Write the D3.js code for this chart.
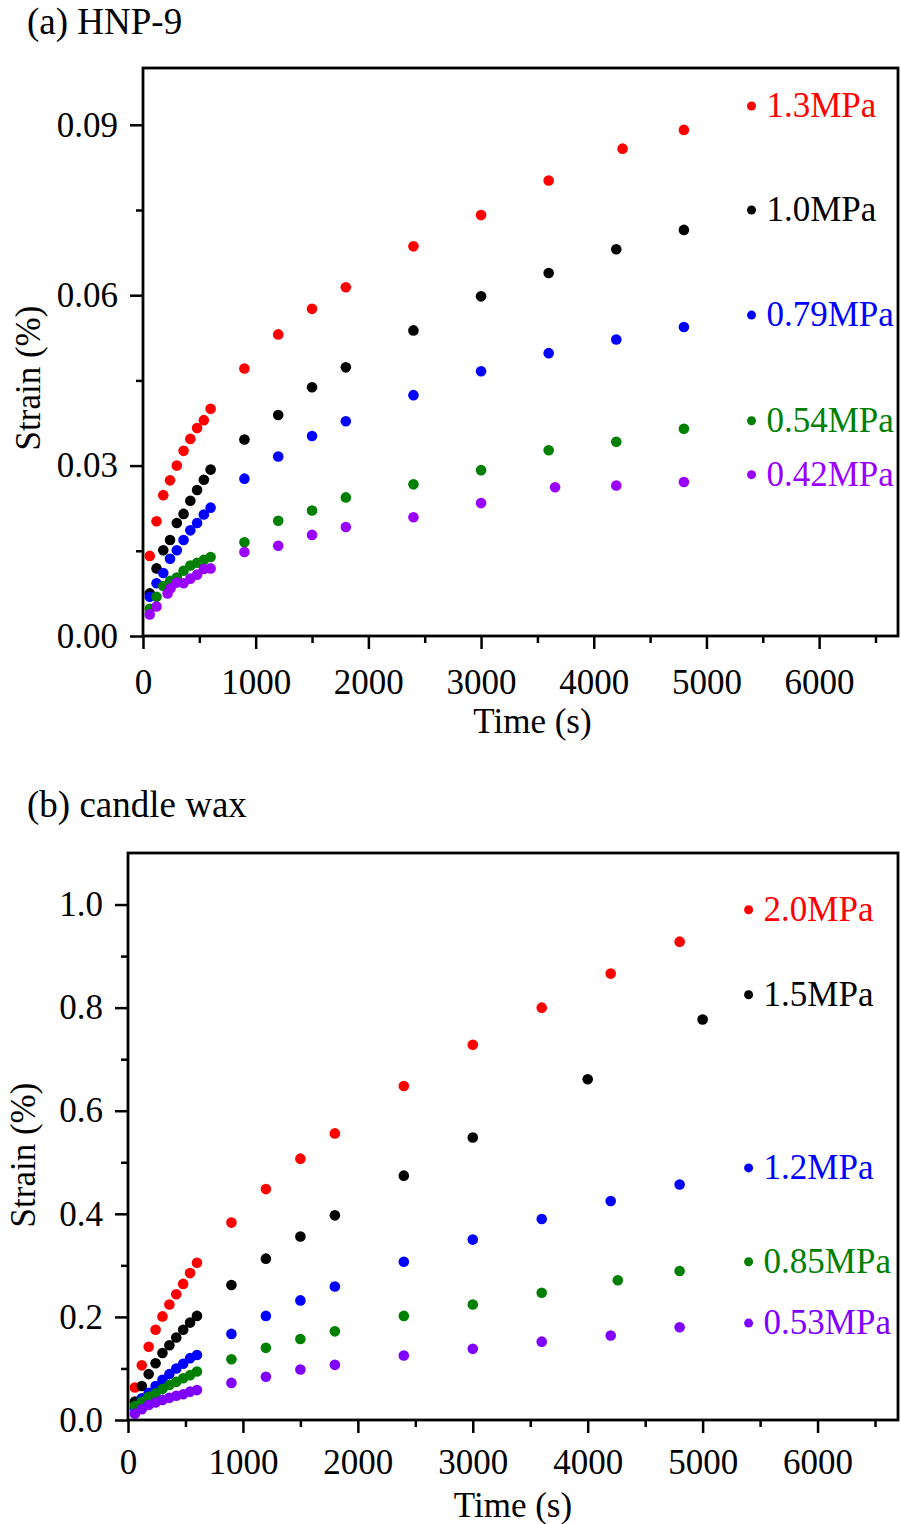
<!DOCTYPE html>
<html>
<head>
<meta charset="utf-8">
<script src="https://cdn.jsdelivr.net/npm/d3@7"></script>
<style>
body { margin: 0; background: #fff; }
svg text { font-family: 'Liberation Serif', 'Times New Roman', serif; }
</style>
</head>
<body>
<div id="chart"></div>
<script>
'use strict';

// time grid (s)
let t_short = [60, 120, 180, 240, 300, 360, 420, 480, 540, 600];
let t_long = [900, 1200, 1500, 1800, 2400, 3000, 3600, 4200, 4800];

// (a) HNP-9, strain (%)
let a_labels = ['1.3MPa', '1.0MPa', '0.79MPa', '0.54MPa', '0.42MPa'];
let a_colors = ['#ff0000', '#000000', '#0000ff', '#008000', '#9900ff'];
let a_legend_y = [0.0933, 0.0750, 0.0565, 0.0379, 0.0284];
let a_t_red = t_short.concat([900, 1200, 1500, 1800, 2400, 3000, 3600, 4256, 4800]);
let a_t_purple = [60, 120, 218, 245, 300, 360, 420, 480, 540, 600, 900, 1200, 1500, 1800, 2400, 3000, 3657, 4200, 4800];
let a_13 = [0.0141, 0.0202, 0.0248, 0.0274, 0.0300, 0.0326, 0.0347, 0.0366, 0.0380, 0.0400,
	0.0471, 0.0531, 0.0576, 0.0614, 0.0686, 0.0741, 0.0802, 0.0858, 0.0891];
let a_10 = [0.0075, 0.0119, 0.0151, 0.0169, 0.0199, 0.0215, 0.0238, 0.0257, 0.0275, 0.0293,
	0.0346, 0.0389, 0.0438, 0.0473, 0.0538, 0.0598, 0.0639, 0.0681, 0.0715];
let a_079 = [0.0069, 0.0093, 0.0111, 0.0136, 0.0151, 0.0169, 0.0186, 0.0199, 0.0214, 0.0226,
	0.0277, 0.0316, 0.0352, 0.0378, 0.0424, 0.0466, 0.0498, 0.0522, 0.0544];
let a_054 = [0.0048, 0.0069, 0.0088, 0.0097, 0.0103, 0.0115, 0.0124, 0.0129, 0.0134, 0.0139,
	0.0165, 0.0203, 0.0221, 0.0244, 0.0267, 0.0292, 0.0327, 0.0342, 0.0365];
let a_042 = [0.0038, 0.0052, 0.0075, 0.0084, 0.0094, 0.0093, 0.0101, 0.0108, 0.0118, 0.0119,
	0.0148, 0.0159, 0.0178, 0.0192, 0.0209, 0.0234, 0.0262, 0.0265, 0.0271];
let a_yticks = [0, 0.03, 0.06, 0.09];
let a_yminor = [0.015, 0.045, 0.075];

// (b) candle wax, strain (%)
let b_labels = ['2.0MPa', '1.5MPa', '1.2MPa', '0.85MPa', '0.53MPa'];
let b_colors = ['#ff0000', '#000000', '#0000ff', '#008000', '#7f00ff'];
let b_legend_y = [0.990, 0.825, 0.489, 0.307, 0.188];
let b_t_black = t_short.concat([900, 1200, 1500, 1800, 2400, 3000, 4000, 5000]);
let b_t_green = t_short.concat([900, 1200, 1500, 1800, 2400, 3000, 3600, 4262, 4800]);
let b_20 = [0.063, 0.106, 0.142, 0.175, 0.201, 0.224, 0.244, 0.264, 0.285, 0.305,
	0.383, 0.448, 0.507, 0.556, 0.648, 0.728, 0.800, 0.866, 0.928];
let b_15 = [0.036, 0.066, 0.089, 0.110, 0.130, 0.145, 0.160, 0.175, 0.189, 0.202,
	0.262, 0.313, 0.356, 0.397, 0.474, 0.548, 0.661, 0.777];
let b_12 = [0.023, 0.042, 0.053, 0.066, 0.078, 0.089, 0.100, 0.109, 0.120, 0.126,
	0.167, 0.202, 0.232, 0.259, 0.307, 0.350, 0.390, 0.425, 0.457];
let b_085 = [0.027, 0.036, 0.045, 0.052, 0.060, 0.068, 0.074, 0.081, 0.087, 0.094,
	0.118, 0.140, 0.157, 0.172, 0.202, 0.224, 0.247, 0.271, 0.289];
let b_053 = [0.012, 0.021, 0.029, 0.034, 0.039, 0.043, 0.047, 0.050, 0.055, 0.058,
	0.072, 0.084, 0.098, 0.107, 0.125, 0.138, 0.152, 0.164, 0.180];
let b_yticks = [0, 0.2, 0.4, 0.6, 0.8, 1.0];
let b_yminor = [0.1, 0.3, 0.5, 0.7, 0.9];

let x_ticks = [0, 1000, 2000, 3000, 4000, 5000, 6000];
let x_minor = [500, 1500, 2500, 3500, 4500, 5500, 6500];
let legend_t = 5400;

function zip(ts, vs) {
	let rv = [];
	for (let i=0 ; i<vs.length ; ++i) {
		rv.push([ts[i], vs[i]]);
	}
	return rv;
}

function panel(svg, o) {
	let x = d3.scaleLinear().domain([0, 6700]).range([o.left, o.right]);
	let y = d3.scaleLinear().domain([0, o.ymax]).range([o.bottom, o.top]);
	let g = svg.append('g');

	g.append('text')
		.attr('x', 27)
		.attr('y', o.title_y)
		.attr('font-size', 37)
		.text(o.title)
		;

	// minor ticks first, then major
	g.append('g')
		.attr('transform', 'translate(0,'+o.bottom+')')
		.call(d3.axisBottom(x).tickValues(x_minor).tickSize(7).tickFormat(''))
		;
	g.append('g')
		.attr('transform', 'translate(0,'+o.bottom+')')
		.call(d3.axisBottom(x).tickValues(x_ticks).tickSize(13).tickPadding(o.xpad).tickFormat(d3.format('d')))
		;
	g.append('g')
		.attr('transform', 'translate('+o.left+',0)')
		.call(d3.axisLeft(y).tickValues(o.yminor).tickSize(7).tickFormat(''))
		;
	g.append('g')
		.attr('transform', 'translate('+o.left+',0)')
		.call(d3.axisLeft(y).tickValues(o.yticks).tickSize(13).tickPadding(12).tickFormat(d3.format(o.yfmt)))
		;
	g.selectAll('.domain').remove();
	g.selectAll('.tick line').attr('stroke', '#000').attr('stroke-width', 2.5);
	g.selectAll('.tick text')
		.attr('font-size', 35)
		.attr('font-family', "'Liberation Serif', serif")
		.attr('fill', '#000')
		;

	g.append('rect')
		.attr('x', o.left)
		.attr('y', o.top)
		.attr('width', o.right - o.left)
		.attr('height', o.bottom - o.top)
		.attr('fill', 'none')
		.attr('stroke', '#000')
		.attr('stroke-width', 2.8)
		;

	g.append('text')
		.attr('x', (o.left + o.right)/2 + o.xlab_dx)
		.attr('y', o.bottom + 97)
		.attr('text-anchor', 'middle')
		.attr('font-size', 35)
		.text('Time (s)')
		;
	g.append('text')
		.attr('transform', 'translate('+(o.ylab_x)+','+o.ylab_y+') rotate(-90)')
		.attr('text-anchor', 'middle')
		.attr('font-size', 35)
		.text('Strain (%)')
		;

	for (let i=0 ; i<o.series.length ; ++i) {
		g.append('g')
			.selectAll('circle')
			.data(o.series[i])
			.join('circle')
				.attr('cx', d => x(d[0]))
				.attr('cy', d => y(d[1]))
				.attr('r', 5.3)
				.attr('fill', o.colors[i])
			;

		g.append('circle')
			.attr('cx', x(legend_t))
			.attr('cy', y(o.legend_y[i]))
			.attr('r', 4.5)
			.attr('fill', o.colors[i])
			;
		g.append('text')
			.attr('x', x(legend_t) + 15)
			.attr('y', y(o.legend_y[i]) + 11)
			.attr('font-size', 35)
			.attr('fill', o.colors[i])
			.text(o.labels[i])
			;
	}
}

let svg = d3.select('#chart')
	.append('svg')
		.attr('width', 901)
		.attr('height', 1524)
	;

panel(svg, {
	title: '(a) HNP-9',
	title_y: 34,
	left: 143, right: 898, top: 68, bottom: 636,
	ymax: 0.1,
	yticks: a_yticks, yminor: a_yminor, yfmt: '.2f',
	xpad: 20, xlab_dx: 12,
	ylab_x: 40, ylab_y: 378,
	colors: a_colors, labels: a_labels, legend_y: a_legend_y,
	series: [
		zip(a_t_red, a_13),
		zip(t_short.concat(t_long), a_10),
		zip(t_short.concat(t_long), a_079),
		zip(t_short.concat(t_long), a_054),
		zip(a_t_purple, a_042),
	],
});

panel(svg, {
	title: '(b) candle wax',
	title_y: 817,
	left: 128, right: 898, top: 853, bottom: 1420,
	ymax: 1.1,
	yticks: b_yticks, yminor: b_yminor, yfmt: '.1f',
	xpad: 16, xlab_dx: 0,
	ylab_x: 35, ylab_y: 1155,
	colors: b_colors, labels: b_labels, legend_y: b_legend_y,
	series: [
		zip(t_short.concat(t_long), b_20),
		zip(b_t_black, b_15),
		zip(t_short.concat(t_long), b_12),
		zip(b_t_green, b_085),
		zip(t_short.concat(t_long), b_053),
	],
});
</script>
</body>
</html>
